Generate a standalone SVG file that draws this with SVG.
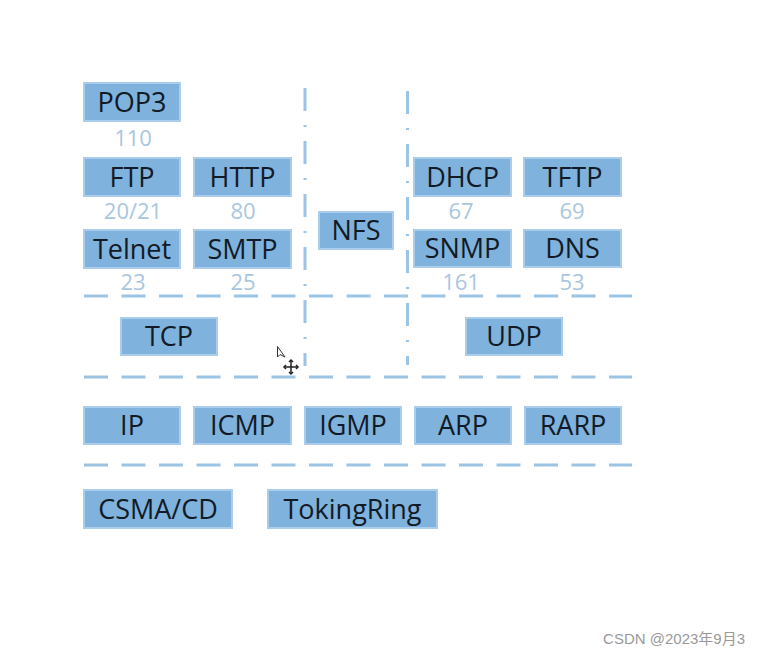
<svg xmlns="http://www.w3.org/2000/svg" width="761" height="656" viewBox="0 0 761 656">
<style>
.box rect{fill:#7fb2dc;stroke:#a9cdea;stroke-width:2}
.box text{font-family:"Open Sans","Noto Sans",sans-serif;font-size:27px;fill:#121a26;text-anchor:middle}
.num{font-family:"Open Sans","Noto Sans",sans-serif;font-size:22px;fill:#a9c6e0;text-anchor:middle}
.h{stroke:#9cc4e4;stroke-width:3;stroke-dasharray:24 13.5;fill:none}
.v{stroke:#9cc4e4;stroke-width:3;stroke-dasharray:23 14 2 14;fill:none}
</style>
<rect width="761" height="656" fill="#ffffff"/>
<g id="connectors">
<line class="h" x1="84" y1="296" x2="632" y2="296"/>
<line class="h" x1="84" y1="377" x2="632" y2="377"/>
<line class="h" x1="84" y1="465" x2="632" y2="465"/>
<line class="v" x1="305" y1="88" x2="305" y2="288"/>
<line class="v" x1="305" y1="300" x2="305" y2="366"/>
<line class="v" x1="407.5" y1="91" x2="407.5" y2="290"/>
<line class="v" x1="407.5" y1="303" x2="407.5" y2="365"/>
</g>
<g id="pop3" class="box"><rect x="84" y="83" width="96" height="38"/><text x="132" y="111.5">POP3</text></g>
<g id="ftp" class="box"><rect x="84" y="158" width="96" height="38"/><text x="132" y="186.5">FTP</text></g>
<g id="http" class="box"><rect x="194" y="158" width="97" height="38"/><text x="242.5" y="186.5">HTTP</text></g>
<g id="telnet" class="box"><rect x="84" y="230" width="96" height="38"/><text x="132" y="258.5">Telnet</text></g>
<g id="smtp" class="box"><rect x="194" y="230" width="97" height="38"/><text x="242.5" y="258.5">SMTP</text></g>
<g id="nfs" class="box"><rect x="319" y="212" width="74" height="37"/><text x="356" y="240">NFS</text></g>
<g id="dhcp" class="box"><rect x="414" y="158" width="97" height="38"/><text x="462.5" y="186.5">DHCP</text></g>
<g id="tftp" class="box"><rect x="524" y="158" width="97" height="38"/><text x="572.5" y="186.5">TFTP</text></g>
<g id="snmp" class="box"><rect x="414" y="230" width="97" height="37"/><text x="462.5" y="258">SNMP</text></g>
<g id="dns" class="box"><rect x="524" y="230" width="97" height="37"/><text x="572.5" y="258">DNS</text></g>
<g id="tcp" class="box"><rect x="121" y="318" width="96" height="37"/><text x="169" y="346">TCP</text></g>
<g id="udp" class="box"><rect x="466" y="318" width="96" height="37"/><text x="514" y="346">UDP</text></g>
<g id="ip" class="box"><rect x="84" y="407" width="96" height="37"/><text x="132" y="435">IP</text></g>
<g id="icmp" class="box"><rect x="194" y="407" width="97" height="37"/><text x="242.5" y="435">ICMP</text></g>
<g id="igmp" class="box"><rect x="305" y="407" width="96" height="37"/><text x="353" y="435">IGMP</text></g>
<g id="arp" class="box"><rect x="415" y="407" width="96" height="37"/><text x="463" y="435">ARP</text></g>
<g id="rarp" class="box"><rect x="525" y="407" width="96" height="37"/><text x="573" y="435">RARP</text></g>
<g id="csmacd" class="box"><rect x="84" y="490" width="148" height="38"/><text x="158" y="518.5">CSMA/CD</text></g>
<g id="tokingring" class="box"><rect x="268" y="490" width="169" height="38"/><text x="352.5" y="518.5">TokingRing</text></g>
<g id="numbers">
<text class="num" x="133" y="146">110</text>
<text class="num" x="133" y="219">20/21</text>
<text class="num" x="243" y="219">80</text>
<text class="num" x="133" y="290">23</text>
<text class="num" x="243" y="290">25</text>
<text class="num" x="461" y="219">67</text>
<text class="num" x="572" y="219">69</text>
<text class="num" x="461" y="290">161</text>
<text class="num" x="572" y="290">53</text>
</g>
<g id="cursor" fill="none" stroke="#333" stroke-width="1">
<path d="M277.5 346.5 L277.5 357 L280 354.5 L285 357 Z" fill="#fff"/>
<path d="M291 360 V374 M284 367 H298" stroke="#222" stroke-width="1.5"/>
<path d="M289 362 L291 360 L293 362 M289 372 L291 374 L293 372 M286 365 L284 367 L286 369 M296 365 L298 367 L296 369" stroke="#222" stroke-width="1.5"/>
</g>
<text x="745" y="644" text-anchor="end" font-family="'Liberation Sans','Noto Sans CJK SC',sans-serif" font-size="15" fill="#9a9a9a">CSDN @2023年9月3</text>
</svg>
